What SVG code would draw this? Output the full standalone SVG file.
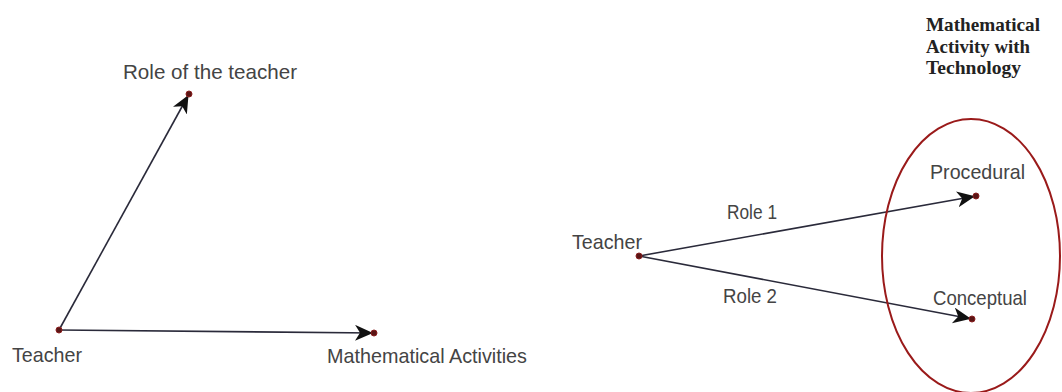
<svg xmlns="http://www.w3.org/2000/svg" width="1062" height="392" viewBox="0 0 1062 392">
<style>
.lbl{font-family:"Liberation Sans",Arial,sans-serif;font-size:21px;fill:#444}
.ttl{font-family:"Liberation Serif","Times New Roman",serif;font-size:19px;font-weight:bold;fill:#222}
.edge{stroke:#2a2a3a;stroke-width:1.6;fill:none}
.pt{fill:#5a1515;stroke:#8a2020;stroke-width:1}
</style>
<defs>
<marker id="arr" markerUnits="userSpaceOnUse" markerWidth="24" markerHeight="20" refX="19" refY="8" orient="auto">
<path d="M0,0 L18,8 L0,16 L5,8 z" fill="#111"/>
</marker>
</defs>
<rect width="1062" height="392" fill="#fff"/>
<g id="connectors">
<line class="edge" x1="59" y1="330" x2="189" y2="94" marker-end="url(#arr)"/>
<line class="edge" x1="59" y1="330" x2="374" y2="333" marker-end="url(#arr)"/>
<line class="edge" x1="639" y1="256" x2="976" y2="196" marker-end="url(#arr)"/>
<line class="edge" x1="639" y1="256" x2="972" y2="319" marker-end="url(#arr)"/>
</g>
<g id="teacher-left"><circle class="pt" cx="59" cy="330" r="3"/><text class="lbl" x="12" y="362" textLength="70" lengthAdjust="spacingAndGlyphs">Teacher</text></g>
<g id="role-of-teacher"><circle class="pt" cx="189" cy="94" r="3"/><text class="lbl" x="123" y="79" textLength="174" lengthAdjust="spacingAndGlyphs">Role of the teacher</text></g>
<g id="math-activities"><circle class="pt" cx="374" cy="333" r="3"/><text class="lbl" x="327" y="363" textLength="200" lengthAdjust="spacingAndGlyphs">Mathematical Activities</text></g>
<g id="math-activity-tech">
<ellipse cx="971" cy="256" rx="89" ry="137" fill="none" stroke="#9a1a1a" stroke-width="2"/>
<text class="ttl" x="926" y="31" textLength="114" lengthAdjust="spacingAndGlyphs">Mathematical</text>
<text class="ttl" x="926" y="53" textLength="104" lengthAdjust="spacingAndGlyphs">Activity with</text>
<text class="ttl" x="926" y="74" textLength="95" lengthAdjust="spacingAndGlyphs">Technology</text>
</g>
<g id="teacher-right"><circle class="pt" cx="639" cy="256" r="3"/><text class="lbl" x="572" y="249" textLength="70" lengthAdjust="spacingAndGlyphs">Teacher</text></g>
<g id="procedural"><circle class="pt" cx="976" cy="196" r="3"/><text class="lbl" x="930" y="179" textLength="95" lengthAdjust="spacingAndGlyphs">Procedural</text></g>
<g id="conceptual"><circle class="pt" cx="972" cy="319" r="3"/><text class="lbl" x="933" y="305" textLength="94" lengthAdjust="spacingAndGlyphs">Conceptual</text></g>
<g id="edge-labels">
<text class="lbl" x="727" y="219" textLength="50" lengthAdjust="spacingAndGlyphs">Role 1</text>
<text class="lbl" x="723" y="303" textLength="54" lengthAdjust="spacingAndGlyphs">Role 2</text>
</g>
</svg>
